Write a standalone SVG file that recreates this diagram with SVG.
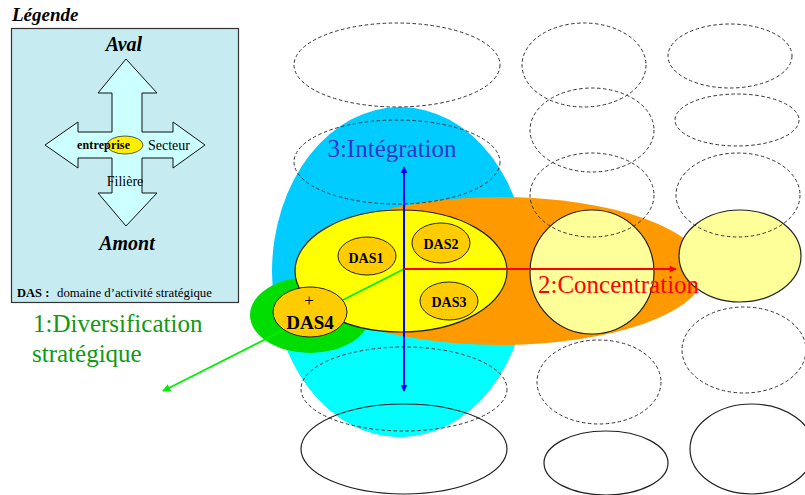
<svg xmlns="http://www.w3.org/2000/svg" width="805" height="495" viewBox="0 0 805 495">
<style>
.dash{fill:none;stroke:#333;stroke-width:1;stroke-dasharray:3.5,2.5}
.solid{fill:none;stroke:#222;stroke-width:1.2}
.das{fill:#FFCC00;stroke:#222;stroke-width:1}
.t{font-family:"Liberation Serif","Times New Roman",serif}
.b{font-weight:bold}
.bi{font-weight:bold;font-style:italic}
</style>
<defs>
<marker id="hb" viewBox="0 0 10 10" refX="9" refY="5" markerWidth="7" markerHeight="7" markerUnits="userSpaceOnUse" orient="auto-start-reverse"><path d="M0,0 L10,5 L0,10 z" fill="#0000FF"/></marker>
<marker id="hr" viewBox="0 0 10 10" refX="9" refY="5" markerWidth="8" markerHeight="7" markerUnits="userSpaceOnUse" orient="auto"><path d="M0,0 L10,5 L0,10 z" fill="#FF0000"/></marker>
<marker id="hg" viewBox="0 0 10 10" refX="9" refY="5" markerWidth="9" markerHeight="8" markerUnits="userSpaceOnUse" orient="auto"><path d="M0,0 L10,5 L0,10 z" fill="#00EE00"/></marker>
<clipPath id="lower"><rect x="0" y="300" width="805" height="195"/></clipPath>
</defs>

<g id="legende">
<text class="t bi" x="12" y="21" font-size="19" fill="#000">Légende</text>
<rect x="11.5" y="28.5" width="227" height="274" fill="#C6ECF2" stroke="#333" stroke-width="1.2"/>
<path d="M126,59 L157,93 L142,93 L142,132 L173,132 L173,122 L205,145 L173,168 L173,158 L142,158 L142,193 L157,193 L126,226 L98,193 L112,193 L112,158 L78,158 L78,168 L45,145 L78,122 L78,132 L112,132 L112,93 L98,93 Z" fill="#CCFFFF" stroke="#111" stroke-width="1"/>
<ellipse cx="125" cy="145" rx="18" ry="9" fill="#FFEE00" stroke="#333" stroke-width="0.8"/>
<text class="t bi" x="124" y="51" font-size="20" text-anchor="middle">Aval</text>
<text class="t bi" x="127" y="250" font-size="20" text-anchor="middle">Amont</text>
<text class="t b" x="103.5" y="149" font-size="12" text-anchor="middle" textLength="53">entreprise</text>
<text class="t" x="148" y="150" font-size="14">Secteur</text>
<text class="t" x="125" y="186" font-size="14" text-anchor="middle">Filière</text>
<text class="t b" x="17" y="297" font-size="12.5">DAS :</text>
<text class="t" x="57" y="297" font-size="12.8">domaine d’activité stratégique</text>
</g>

<g id="integration-zone">
<ellipse cx="400" cy="272" rx="128" ry="165" fill="#00CCFF"/>
<ellipse cx="400" cy="272" rx="128" ry="165" fill="#00FFFF" clip-path="url(#lower)"/>
</g>
<g id="concentration-zone">
<ellipse cx="500" cy="271" rx="205" ry="74" fill="#FF9900"/>
</g>
<g id="diversification-zone">
<ellipse cx="310" cy="315" rx="60" ry="38" fill="#00DD00"/>
</g>
<g id="entreprise">
<ellipse cx="401" cy="271" rx="106" ry="61" fill="#FFFF00" stroke="#222" stroke-width="1.2"/>
</g>
<g id="secteur-voisin">
<ellipse cx="592" cy="272" rx="62" ry="62" fill="#FFFF99" stroke="#222" stroke-width="1.2"/>
</g>
<g id="secteur-voisin-2">
<ellipse cx="740" cy="256" rx="61" ry="46" fill="#FFFF99" stroke="#222" stroke-width="1.2"/>
</g>

<g id="das1"><ellipse class="das" cx="367" cy="256" rx="29" ry="19"/><text class="t b" x="366" y="263" font-size="14" text-anchor="middle">DAS1</text></g>
<g id="das2"><ellipse class="das" cx="441" cy="243" rx="29" ry="20"/><text class="t b" x="441" y="249" font-size="14" text-anchor="middle">DAS2</text></g>
<g id="das3"><ellipse class="das" cx="449" cy="301" rx="29" ry="19"/><text class="t b" x="449" y="307" font-size="14" text-anchor="middle">DAS3</text></g>

<g id="grille">
<ellipse class="dash" cx="397" cy="65" rx="103" ry="42"/>
<ellipse class="dash" cx="397" cy="162" rx="103" ry="42"/>
<ellipse class="dash" cx="404" cy="389" rx="103" ry="42"/>
<ellipse class="solid" cx="404" cy="449" rx="103" ry="45"/>
<ellipse class="dash" cx="584" cy="65" rx="62" ry="42"/>
<ellipse class="dash" cx="592" cy="130" rx="62" ry="42"/>
<ellipse class="dash" cx="592" cy="195" rx="62" ry="42"/>
<ellipse class="dash" cx="599" cy="382" rx="62" ry="42"/>
<ellipse class="solid" cx="606" cy="463" rx="62" ry="32"/>
<ellipse class="dash" cx="730" cy="56" rx="62" ry="32"/>
<ellipse class="dash" cx="737" cy="120" rx="62" ry="26"/>
<ellipse class="dash" cx="738" cy="195" rx="62" ry="42"/>
<ellipse class="dash" cx="744" cy="350" rx="62" ry="43"/>
<ellipse class="solid" cx="752" cy="449" rx="62" ry="45"/>
</g>

<g id="connecteurs">
<line x1="404" y1="269" x2="163" y2="391" stroke="#00EE00" stroke-width="1.8" marker-end="url(#hg)"/>
<line x1="404" y1="167" x2="404" y2="391" stroke="#0000FF" stroke-width="2" marker-start="url(#hb)" marker-end="url(#hb)"/>
<line x1="404" y1="269" x2="676" y2="269" stroke="#FF0000" stroke-width="2.2" marker-end="url(#hr)"/>
</g>

<g id="das4"><ellipse class="das" cx="310" cy="312" rx="37" ry="25"/><text class="t" x="309" y="306" font-size="17" text-anchor="middle">+</text><text class="t b" x="310" y="329" font-size="19" text-anchor="middle">DAS4</text></g>

<g id="labels">
<text class="t" x="392" y="157" font-size="25" fill="#3333CC" text-anchor="middle">3:Intégration</text>
<text class="t" x="538" y="293" font-size="25" fill="#FF0000">2:Concentration</text>
<text class="t" x="33" y="332" font-size="25" fill="#119911">1:Diversification</text>
<text class="t" x="32" y="362" font-size="25" fill="#119911">stratégique</text>
</g>
</svg>
